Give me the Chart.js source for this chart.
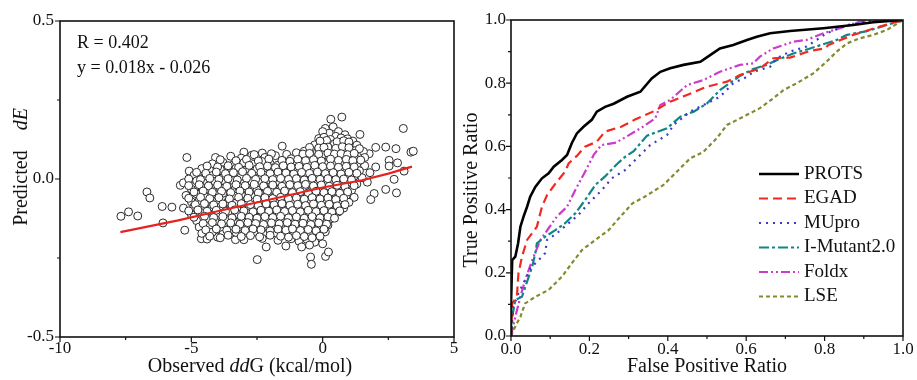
<!DOCTYPE html>
<html>
<head>
<meta charset="utf-8">
<script src="https://cdn.jsdelivr.net/npm/chart.js@4.4.1/dist/chart.umd.min.js"></script>
<style>
  body { margin: 0; background: #fff; }
  canvas { position: absolute; top: 0; }
  #scatter { left: 0; }
  #roc { left: 460px; }
</style>
</head>
<body>
<canvas id="scatter" width="460" height="380"></canvas>
<canvas id="roc" width="457" height="380"></canvas>
<script>
// ---- left panel: observed ddG vs predicted dE ----
const scatterOutliers = [
  [-7.68,-0.118],[-7.39,-0.104],[-7.04,-0.117],[-6.69,-0.041],[-6.58,-0.06],[-6.11,-0.087],[-6.08,-0.139],
  [-5.74,-0.089],[-5.42,-0.02],[-5.25,-0.162],[-5.17,0.068],[-5.08,0.025],[-4.91,0.001],[-4.63,0.015],
  [-4.4,0.015],[-4.08,0.068],[-4.08,0.022],[-4.62,-0.189],[-4.0,-0.184],[-3.32,-0.192],[-2.49,-0.255],
  [-2.15,-0.215],[-1.54,0.104],[-1.37,0.078],[-0.46,-0.247],[-0.43,-0.27],[0.11,-0.245],[0.22,-0.231],
  [0.31,0.189],[0.73,0.196],[1.42,0.141],[3.07,0.16],[3.36,0.085],[3.45,0.088],[2.79,0.096],[2.4,0.101],
  [2.85,0.051],[3.1,0.025],[2.72,-0.001],[2.4,-0.033],[2.81,-0.044],[1.96,-0.046],[1.83,-0.065],[1.7,-0.01],
  [2.02,0.038],[1.77,0.08],[2.02,0.1],[1.45,0.075],[2.53,0.059],[2.53,0.041]
];

const scatterCore = [
  [0.1,0.16],[0.4,0.165],[0.6,0.15],[0.25,0.145],[0.85,0.14],[0.0,0.15],[0.5,0.135],
  [-0.15,0.128],[0.05,0.132],[0.3,0.125],[0.7,0.13],[0.95,0.127],[1.15,0.12],
  [-0.3,0.108],[-0.05,0.113],[0.2,0.105],[0.45,0.112],[0.65,0.104],[0.9,0.11],[1.1,0.098],[1.3,0.107],
  [-0.7,0.088],[-0.45,0.093],[-0.2,0.085],[0.1,0.09],[0.35,0.086],[0.6,0.094],[0.8,0.087],[1.05,0.083],
  [1.25,0.09],[1.55,0.087],[-2.3,0.082],[-3.0,0.085],
  [-3.5,0.072],[-3.1,0.066],[-2.7,0.075],[-2.2,0.068],[-1.8,0.074],[-1.2,0.064],[-0.9,0.078],[-0.6,0.07],
  [-0.3,0.066],[0.0,0.076],[0.25,0.069],[0.5,0.073],[0.75,0.065],[1.0,0.071],[1.3,0.062],[1.6,0.068],
  [-4.2,0.048],[-3.8,0.053],[-3.4,0.045],[-3.0,0.052],[-2.6,0.047],[-2.3,0.055],[-2.0,0.049],[-1.7,0.044],
  [-1.4,0.053],[-1.1,0.047],[-0.8,0.051],[-0.5,0.045],[-0.2,0.054],[0.1,0.048],[0.4,0.052],[0.7,0.044],
  [1.0,0.05],[1.3,0.047],[1.6,0.042],
  [-4.6,0.033],[-4.3,0.027],[-3.9,0.031],[-3.6,0.025],[-3.3,0.034],[-2.9,0.028],[-2.5,0.032],[-2.2,0.026],
  [-1.9,0.035],[-1.6,0.029],[-1.3,0.024],[-1.0,0.033],[-0.7,0.027],[-0.4,0.031],[-0.1,0.025],[0.2,0.034],
  [0.5,0.028],[0.8,0.022],[1.1,0.031],[1.4,0.026],[1.8,0.02],
  [-4.9,0.012],[-4.5,0.006],[-4.2,0.011],[-3.8,0.004],[-3.5,0.013],[-3.1,0.008],[-2.8,0.01],[-2.4,0.005],
  [-2.1,0.014],[-1.8,0.007],[-1.5,0.011],[-1.2,0.004],[-0.9,0.012],[-0.6,0.006],[-0.3,0.01],[0.0,0.003],
  [0.3,0.012],[0.6,0.007],[0.9,0.002],[1.2,0.009],[1.5,0.004],
  [-5.3,-0.012],[-4.8,-0.006],[-4.4,-0.013],[-4.1,-0.008],[-3.7,-0.011],[-3.4,-0.005],[-3.0,-0.014],
  [-2.7,-0.007],[-2.3,-0.01],[-2.0,-0.004],[-1.7,-0.012],[-1.4,-0.008],[-1.1,-0.013],[-0.8,-0.006],
  [-0.5,-0.011],[-0.2,-0.015],[0.1,-0.008],[0.4,-0.012],[0.7,-0.018],[1.0,-0.01],[1.3,-0.016],
  [-5.0,-0.032],[-4.6,-0.027],[-4.3,-0.034],[-3.9,-0.028],[-3.6,-0.033],[-3.2,-0.026],[-2.9,-0.031],
  [-2.5,-0.035],[-2.2,-0.027],[-1.9,-0.032],[-1.6,-0.028],[-1.3,-0.034],[-1.0,-0.026],[-0.7,-0.031],
  [-0.4,-0.036],[-0.1,-0.029],[0.2,-0.034],[0.5,-0.038],[0.8,-0.03],[1.1,-0.036],
  [-5.2,-0.052],[-4.8,-0.047],[-4.5,-0.054],[-4.1,-0.049],[-3.8,-0.045],[-3.4,-0.053],[-3.1,-0.048],
  [-2.7,-0.055],[-2.4,-0.046],[-2.1,-0.051],[-1.8,-0.056],[-1.5,-0.048],[-1.2,-0.053],[-0.9,-0.047],
  [-0.6,-0.052],[-0.3,-0.057],[0.0,-0.049],[0.3,-0.055],[0.6,-0.06],[0.9,-0.052],[1.2,-0.058],
  [-5.0,-0.072],[-4.7,-0.068],[-4.3,-0.074],[-4.0,-0.066],[-3.6,-0.071],[-3.3,-0.076],[-2.9,-0.069],
  [-2.6,-0.073],[-2.3,-0.067],[-2.0,-0.075],[-1.7,-0.07],[-1.4,-0.066],[-1.1,-0.074],[-0.8,-0.069],
  [-0.5,-0.077],[-0.2,-0.071],[0.1,-0.076],[0.4,-0.068],[0.7,-0.08],[1.0,-0.074],
  [-5.3,-0.092],[-4.9,-0.087],[-4.5,-0.094],[-4.2,-0.088],[-3.8,-0.091],[-3.5,-0.096],[-3.1,-0.089],
  [-2.8,-0.093],[-2.5,-0.086],[-2.2,-0.095],[-1.9,-0.09],[-1.6,-0.085],[-1.3,-0.094],[-1.0,-0.088],
  [-0.7,-0.097],[-0.4,-0.091],[-0.1,-0.095],[0.2,-0.087],[0.5,-0.099],[0.8,-0.092],
  [-5.0,-0.112],[-4.6,-0.107],[-4.3,-0.114],[-3.9,-0.109],[-3.6,-0.105],[-3.2,-0.113],[-2.9,-0.108],
  [-2.6,-0.116],[-2.3,-0.106],[-2.0,-0.111],[-1.7,-0.115],[-1.4,-0.108],[-1.1,-0.113],[-0.8,-0.107],
  [-0.5,-0.116],[-0.2,-0.11],[0.1,-0.118],[0.4,-0.112],[0.6,-0.104],
  [-4.8,-0.132],[-4.4,-0.127],[-4.1,-0.134],[-3.7,-0.128],[-3.4,-0.133],[-3.0,-0.126],[-2.7,-0.135],
  [-2.4,-0.129],[-2.1,-0.133],[-1.8,-0.127],[-1.5,-0.136],[-1.2,-0.13],[-0.9,-0.134],[-0.6,-0.128],
  [-0.3,-0.137],[0.0,-0.131],[0.3,-0.126],
  [-4.7,-0.152],[-4.3,-0.147],[-3.9,-0.155],[-3.5,-0.149],[-3.2,-0.153],[-2.8,-0.146],[-2.5,-0.154],
  [-2.2,-0.149],[-1.9,-0.156],[-1.6,-0.15],[-1.3,-0.146],[-1.0,-0.155],[-0.7,-0.149],[-0.4,-0.157],
  [-0.1,-0.151],[0.2,-0.146],
  [-4.6,-0.172],[-4.2,-0.168],[-3.8,-0.175],[-3.3,-0.169],[-2.9,-0.173],[-2.6,-0.167],[-2.2,-0.176],
  [-1.8,-0.17],[-1.4,-0.174],[-1.1,-0.168],[-0.8,-0.177],[-0.5,-0.171],[-0.2,-0.175],[0.1,-0.167],
  [-4.4,-0.19],[-3.9,-0.186],[-3.0,-0.192],[-2.3,-0.188],[-1.7,-0.194],[-1.2,-0.189],[-0.9,-0.197],
  [-0.6,-0.191],[-0.3,-0.2],
  [-1.4,-0.212],[-0.8,-0.215],[-0.5,-0.209],[0.0,-0.205]
];

// second, interleaved layer of the dense cloud
const scatterInner = [
  [0.15,0.122],[0.55,0.118],[0.8,0.121],[1.0,0.117],[-0.1,0.12],
  [-0.5,0.1],[-0.15,0.098],[0.2,0.101],[0.5,0.097],[0.75,0.102],[1.0,0.099],[1.4,0.096],[0.05,0.1],
  [-2.6,0.077],[-1.95,0.08],[-1.0,0.083],[-0.75,0.079],[-0.5,0.081],[-0.15,0.078],[0.2,0.082],
  [0.45,0.079],[0.7,0.08],[0.95,0.077],[1.2,0.081],
  [-3.9,0.061],[-3.3,0.058],[-2.9,0.062],[-2.45,0.057],[-2.05,0.063],[-1.55,0.059],[-1.25,0.056],
  [-0.95,0.062],[-0.65,0.058],[-0.35,0.061],[-0.05,0.057],[0.3,0.063],[0.6,0.059],[0.9,0.062],
  [1.15,0.058],[1.45,0.06],
  [-4.4,0.041],[-4.0,0.038],[-3.6,0.042],[-3.2,0.037],[-2.8,0.043],[-2.4,0.039],[-2.1,0.041],
  [-1.8,0.036],[-1.5,0.042],[-1.2,0.038],[-0.9,0.04],[-0.6,0.037],[-0.3,0.043],[0.0,0.039],
  [0.3,0.041],[0.6,0.037],[0.9,0.04],[1.2,0.038],
  [-4.8,0.021],[-4.45,0.018],[-4.05,0.022],[-3.7,0.017],[-3.4,0.02],[-3.05,0.023],[-2.7,0.018],
  [-2.35,0.021],[-2.0,0.017],[-1.7,0.022],[-1.4,0.019],[-1.1,0.016],[-0.8,0.021],[-0.5,0.018],
  [-0.2,0.022],[0.1,0.017],[0.4,0.02],[0.7,0.016],[1.0,0.021],[1.3,0.018],
  [-5.1,0.0],[-4.65,-0.002],[-4.3,0.002],[-3.95,-0.001],[-3.6,0.001],[-3.25,-0.003],[-2.9,0.002],
  [-2.55,-0.001],[-2.2,0.001],[-1.9,-0.002],[-1.6,0.002],[-1.3,-0.001],[-1.0,0.001],[-0.7,-0.003],
  [-0.4,0.002],[-0.1,-0.001],[0.2,0.001],[0.5,-0.002],[0.8,0.0],[1.1,-0.003],
  [-5.1,-0.021],[-4.7,-0.018],[-4.35,-0.022],[-4.0,-0.019],[-3.65,-0.023],[-3.3,-0.018],[-2.95,-0.021],
  [-2.6,-0.017],[-2.25,-0.022],[-1.9,-0.019],[-1.55,-0.023],[-1.25,-0.018],[-0.95,-0.021],[-0.65,-0.017],
  [-0.35,-0.022],[-0.05,-0.019],[0.25,-0.023],[0.55,-0.02],[0.85,-0.024],[1.2,-0.021],
  [-4.9,-0.041],[-4.55,-0.038],[-4.2,-0.042],[-3.85,-0.039],[-3.5,-0.043],[-3.15,-0.038],[-2.8,-0.041],
  [-2.45,-0.044],[-2.1,-0.039],[-1.75,-0.042],[-1.45,-0.038],[-1.15,-0.043],[-0.85,-0.04],[-0.55,-0.044],
  [-0.25,-0.039],[0.05,-0.043],[0.35,-0.04],[0.65,-0.045],[0.95,-0.041],
  [-5.1,-0.061],[-4.65,-0.058],[-4.3,-0.062],[-3.95,-0.059],[-3.55,-0.063],[-3.2,-0.058],[-2.85,-0.061],
  [-2.5,-0.064],[-2.2,-0.059],[-1.9,-0.062],[-1.6,-0.058],[-1.3,-0.063],[-1.0,-0.06],[-0.7,-0.064],
  [-0.4,-0.059],[-0.1,-0.063],[0.2,-0.06],[0.5,-0.065],[0.8,-0.061],
  [-4.85,-0.081],[-4.5,-0.078],[-4.15,-0.082],[-3.8,-0.079],[-3.45,-0.083],[-3.1,-0.078],[-2.75,-0.081],
  [-2.45,-0.084],[-2.15,-0.079],[-1.85,-0.082],[-1.55,-0.078],[-1.25,-0.083],[-0.95,-0.08],[-0.65,-0.084],
  [-0.35,-0.079],[-0.05,-0.083],[0.25,-0.08],[0.55,-0.085],[0.85,-0.081],
  [-5.1,-0.101],[-4.75,-0.098],[-4.4,-0.102],[-4.05,-0.099],[-3.7,-0.103],[-3.35,-0.098],[-3.0,-0.101],
  [-2.65,-0.104],[-2.35,-0.099],[-2.05,-0.102],[-1.75,-0.098],[-1.45,-0.103],[-1.15,-0.1],[-0.85,-0.104],
  [-0.55,-0.099],[-0.25,-0.103],[0.05,-0.1],[0.35,-0.105],[0.65,-0.101],
  [-4.9,-0.121],[-4.5,-0.118],[-4.15,-0.122],[-3.8,-0.119],[-3.45,-0.123],[-3.1,-0.118],[-2.8,-0.121],
  [-2.5,-0.124],[-2.2,-0.119],[-1.9,-0.122],[-1.6,-0.118],[-1.3,-0.123],[-1.0,-0.12],[-0.7,-0.124],
  [-0.4,-0.119],[-0.1,-0.123],[0.2,-0.12],[0.45,-0.124],
  [-4.55,-0.141],[-4.2,-0.138],[-3.85,-0.142],[-3.5,-0.139],[-3.15,-0.143],[-2.85,-0.138],[-2.55,-0.141],
  [-2.25,-0.144],[-1.95,-0.139],[-1.65,-0.142],[-1.35,-0.138],[-1.05,-0.143],[-0.75,-0.14],[-0.45,-0.144],
  [-0.15,-0.139],[0.15,-0.143],
  [-4.45,-0.161],[-4.05,-0.158],[-3.65,-0.162],[-3.3,-0.159],[-2.95,-0.163],[-2.65,-0.158],[-2.35,-0.161],
  [-2.0,-0.164],[-1.7,-0.159],[-1.4,-0.162],[-1.15,-0.158],[-0.85,-0.163],[-0.55,-0.16],[-0.25,-0.164],
  [0.05,-0.159],
  [-4.3,-0.181],[-3.6,-0.178],[-3.1,-0.182],[-2.75,-0.179],[-2.4,-0.183],[-2.0,-0.178],[-1.6,-0.181],
  [-1.3,-0.184],[-1.0,-0.179],[-0.7,-0.182],[-0.4,-0.186],[-0.1,-0.181]
];

const fitX = [-7.7, -5.5, -4.0, -2.0, 0.0, 1.5, 2.5, 3.4];
const fitY = [-0.168, -0.131, -0.102, -0.065, -0.027, -0.004, 0.017, 0.039];

const leftXMajor = [-10, -5, 0, 5];
const leftXMinor = [-7.5, -2.5, 2.5];
const leftYMajor = [-0.5, 0, 0.5];
const leftYMinor = [-0.25, 0.25];

// ---- right panel: ROC curves ----
const rocNames = ["PROTS", "EGAD", "MUpro", "I-Mutant2.0", "Foldx", "LSE"];

const protsFpr = [0, 0, 0.003, 0.011, 0.018, 0.024, 0.032, 0.041, 0.049, 0.062, 0.079, 0.096, 0.109, 0.13, 0.143, 0.155, 0.168, 0.185, 0.206, 0.219, 0.24, 0.262, 0.296, 0.33, 0.359, 0.381, 0.406, 0.44, 0.483, 0.508, 0.533, 0.567, 0.602, 0.627, 0.661, 0.712, 0.797, 0.873, 0.924, 1.0];
const protsTpr = [0, 0.1, 0.24, 0.251, 0.293, 0.346, 0.378, 0.409, 0.441, 0.472, 0.499, 0.515, 0.536, 0.557, 0.573, 0.61, 0.641, 0.662, 0.684, 0.71, 0.725, 0.735, 0.757, 0.773, 0.815, 0.836, 0.847, 0.858, 0.868, 0.889, 0.91, 0.921, 0.937, 0.947, 0.958, 0.965, 0.974, 0.984, 0.993, 1.0];

const egadFpr = [0, 0.003, 0.015, 0.019, 0.028, 0.041, 0.066, 0.079, 0.092, 0.117, 0.138, 0.147, 0.168, 0.189, 0.219, 0.24, 0.281, 0.315, 0.362, 0.406, 0.449, 0.5, 0.551, 0.584, 0.635, 0.669, 0.712, 0.763, 0.801, 0.81, 0.873, 0.941, 1.0];
const egadTpr = [0, 0.103, 0.124, 0.198, 0.251, 0.304, 0.346, 0.409, 0.446, 0.488, 0.52, 0.546, 0.57, 0.599, 0.615, 0.647, 0.662, 0.684, 0.71, 0.741, 0.763, 0.789, 0.805, 0.826, 0.847, 0.879, 0.881, 0.902, 0.91, 0.921, 0.953, 0.979, 1.0];

const muproFpr = [0, 0.006, 0.019, 0.036, 0.049, 0.07, 0.087, 0.092, 0.117, 0.147, 0.172, 0.198, 0.232, 0.257, 0.291, 0.325, 0.355, 0.398, 0.415, 0.457, 0.491, 0.533, 0.567, 0.602, 0.618, 0.661, 0.678, 0.712, 0.754, 0.805, 0.857, 0.908, 1.0];
const muproTpr = [0, 0.093, 0.135, 0.177, 0.214, 0.24, 0.262, 0.304, 0.325, 0.357, 0.383, 0.42, 0.462, 0.499, 0.525, 0.567, 0.604, 0.636, 0.668, 0.71, 0.731, 0.757, 0.8, 0.82, 0.836, 0.852, 0.879, 0.9, 0.916, 0.958, 0.984, 0.995, 1.0];

const imutFpr = [0, 0.003, 0.011, 0.028, 0.041, 0.054, 0.062, 0.066, 0.087, 0.113, 0.138, 0.164, 0.189, 0.215, 0.24, 0.272, 0.291, 0.313, 0.347, 0.398, 0.432, 0.466, 0.5, 0.533, 0.584, 0.618, 0.652, 0.678, 0.72, 0.763, 0.831, 0.857, 0.908, 0.958, 1.0];
const imutTpr = [0, 0.06, 0.114, 0.124, 0.172, 0.219, 0.262, 0.293, 0.314, 0.335, 0.357, 0.388, 0.43, 0.478, 0.505, 0.546, 0.567, 0.585, 0.634, 0.657, 0.694, 0.71, 0.736, 0.778, 0.823, 0.845, 0.858, 0.873, 0.894, 0.91, 0.937, 0.953, 0.965, 0.984, 1.0];

const foldxFpr = [0, 0.011, 0.024, 0.036, 0.054, 0.075, 0.096, 0.117, 0.143, 0.164, 0.189, 0.211, 0.23, 0.268, 0.3, 0.334, 0.368, 0.381, 0.406, 0.449, 0.491, 0.533, 0.584, 0.618, 0.635, 0.669, 0.72, 0.754, 0.797, 0.839, 0.89, 0.941, 1.0];
const foldxTpr = [0, 0.061, 0.124, 0.177, 0.24, 0.304, 0.341, 0.378, 0.409, 0.462, 0.52, 0.573, 0.604, 0.612, 0.635, 0.66, 0.689, 0.731, 0.747, 0.794, 0.81, 0.836, 0.858, 0.863, 0.884, 0.91, 0.931, 0.937, 0.958, 0.974, 0.995, 0.997, 1.0];

const lseFpr = [0, 0.011, 0.024, 0.036, 0.062, 0.096, 0.13, 0.155, 0.181, 0.215, 0.249, 0.277, 0.31, 0.34, 0.366, 0.389, 0.423, 0.457, 0.491, 0.525, 0.551, 0.58, 0.618, 0.635, 0.669, 0.695, 0.729, 0.771, 0.805, 0.831, 0.857, 0.89, 0.924, 0.958, 1.0];
const lseTpr = [0, 0.03, 0.061, 0.103, 0.124, 0.146, 0.188, 0.23, 0.272, 0.304, 0.335, 0.375, 0.42, 0.44, 0.46, 0.478, 0.52, 0.562, 0.583, 0.626, 0.668, 0.686, 0.71, 0.721, 0.752, 0.778, 0.8, 0.831, 0.868, 0.9, 0.926, 0.942, 0.953, 0.968, 1.0];

const rightMajor = [0, 0.2, 0.4, 0.6, 0.8, 1.0];
const rightMinor = [0.1, 0.3, 0.5, 0.7, 0.9];

const SERIF = '"Liberation Serif", "Times New Roman", serif';
const INK = "#111";

function xy(xs, ys) {
  return xs.map((x, i) => ({ x: x, y: ys[i] }));
}

// draws a run of text pieces (some italic) centred or left-aligned on a point
function drawRich(ctx, parts, x, y, size, opts) {
  opts = opts || {};
  ctx.save();
  ctx.translate(x, y);
  if (opts.rotate) ctx.rotate(-Math.PI / 2);
  ctx.fillStyle = INK;
  ctx.textBaseline = "middle";
  ctx.textAlign = "left";
  const fonts = parts.map((p) => (p.italic ? "italic " : "") + size + "px " + SERIF);
  let total = 0;
  const widths = parts.map((p, i) => {
    ctx.font = fonts[i];
    const w = ctx.measureText(p.text).width;
    total += w;
    return w;
  });
  let cx = opts.left ? 0 : -total / 2;
  parts.forEach((p, i) => {
    ctx.font = fonts[i];
    ctx.fillText(p.text, cx, 0);
    cx += widths[i];
  });
  ctx.restore();
}

// box frame, outward ticks (major + minor) and free text
const framePlugin = {
  id: "frame",
  afterDraw(chart, args, o) {
    const { ctx, chartArea: a } = chart;
    const sx = chart.scales.x, sy = chart.scales.y;
    ctx.save();
    ctx.strokeStyle = INK;
    ctx.lineWidth = 1.6;
    ctx.strokeRect(a.left, a.top, a.right - a.left, a.bottom - a.top);
    ctx.lineWidth = 1.2;
    ctx.beginPath();
    o.xMajor.forEach((v) => { const p = sx.getPixelForValue(v); ctx.moveTo(p, a.bottom); ctx.lineTo(p, a.bottom + 5); });
    o.xMinor.forEach((v) => { const p = sx.getPixelForValue(v); ctx.moveTo(p, a.bottom); ctx.lineTo(p, a.bottom + 3); });
    o.yMajor.forEach((v) => { const p = sy.getPixelForValue(v); ctx.moveTo(a.left, p); ctx.lineTo(a.left - 5, p); });
    o.yMinor.forEach((v) => { const p = sy.getPixelForValue(v); ctx.moveTo(a.left, p); ctx.lineTo(a.left - 3, p); });
    ctx.stroke();
    ctx.restore();
    (o.texts || []).forEach((t) => drawRich(ctx, t.parts, t.x, t.y, t.size, t));
  },
};

// legend drawn inside the plot area from the datasets themselves
const insideLegend = {
  id: "insideLegend",
  afterDraw(chart, args, o) {
    if (!o.show) return;
    const { ctx, chartArea: a } = chart;
    ctx.save();
    chart.data.datasets.forEach((ds, i) => {
      const y = a.top + o.top + i * o.step;
      const x0 = a.left + o.left;
      ctx.strokeStyle = ds.borderColor;
      ctx.lineWidth = ds.borderWidth;
      ctx.setLineDash(ds.borderDash || []);
      ctx.beginPath();
      ctx.moveTo(x0, y);
      ctx.lineTo(x0 + o.lineLen, y);
      ctx.stroke();
      ctx.setLineDash([]);
      ctx.fillStyle = INK;
      ctx.font = o.size + "px " + SERIF;
      ctx.textBaseline = "middle";
      ctx.fillText(ds.label, x0 + o.lineLen + 5, y);
    });
    ctx.restore();
  },
};

function axis(min, max, step, fmt, fixedSize, isY, pad) {
  return {
    type: "linear",
    min: min,
    max: max,
    grid: { display: false, drawTicks: false, tickLength: 0 },
    border: { display: false },
    ticks: {
      stepSize: step,
      color: INK,
      padding: pad,
      maxRotation: 0,
      autoSkip: false,
      font: { family: SERIF, size: 17 },
      callback: fmt,
    },
    afterFit(s) {
      if (isY) s.width = fixedSize;
      else s.height = fixedSize;
    },
  };
}

new Chart(document.getElementById("scatter"), {
  type: "scatter",
  data: {
    datasets: [
      {
        type: "line",
        label: "fit",
        data: xy(fitX, fitY),
        borderColor: "#e8231f",
        borderWidth: 2.2,
        pointRadius: 0,
        fill: false,
        tension: 0,
      },
      {
        label: "observed vs predicted",
        data: scatterOutliers.concat(scatterCore, scatterInner).map((p) => ({ x: p[0], y: p[1] })),
        pointRadius: 4,
        pointBackgroundColor: "#fff",
        pointBorderColor: "#2a2a2a",
        pointBorderWidth: 1,
        showLine: false,
      },
    ],
  },
  options: {
    responsive: false,
    animation: false,
    layout: { padding: { top: 21, right: 6, left: 0, bottom: 0 } },
    plugins: {
      legend: { display: false },
      tooltip: { enabled: false },
      frame: {
        xMajor: leftXMajor, xMinor: leftXMinor, yMajor: leftYMajor, yMinor: leftYMinor,
        texts: [
          { parts: [{ text: "Observed " }, { text: "dd", italic: true }, { text: "G (kcal/mol)" }], x: 250, y: 367, size: 20 },
          { parts: [{ text: "Predicted    " }, { text: "dE", italic: true }], x: 22, y: 167, size: 20, rotate: true },
          { parts: [{ text: "R = 0.402" }], x: 77, y: 43, size: 18, left: true },
          { parts: [{ text: "y = 0.018x - 0.026" }], x: 77, y: 68, size: 18, left: true },
        ],
      },
    },
    scales: {
      x: axis(-10, 5, 5, (v) => String(v), 43, false, 1),
      y: axis(-0.5, 0.5, 0.5, (v) => v.toFixed(1), 60, true, 6),
    },
  },
  plugins: [framePlugin],
});

const rocStyles = [
  { color: "#000000", width: 2.6, dash: [] },
  { color: "#f02a22", width: 2.2, dash: [9, 5] },
  { color: "#3a3acc", width: 2.2, dash: [2, 5] },
  { color: "#128585", width: 2.2, dash: [10, 3, 3, 3] },
  { color: "#cc3ccc", width: 2.2, dash: [9, 3, 2, 3, 2, 3] },
  { color: "#868a2c", width: 2.2, dash: [4, 3] },
];
const rocData = [
  xy(protsFpr, protsTpr), xy(egadFpr, egadTpr), xy(muproFpr, muproTpr),
  xy(imutFpr, imutTpr), xy(foldxFpr, foldxTpr), xy(lseFpr, lseTpr),
];

new Chart(document.getElementById("roc"), {
  type: "line",
  data: {
    datasets: rocNames.map((name, i) => ({
      label: name,
      data: rocData[i],
      borderColor: rocStyles[i].color,
      borderWidth: rocStyles[i].width,
      borderDash: rocStyles[i].dash,
      pointRadius: 0,
      fill: false,
      tension: 0,
    })),
  },
  options: {
    responsive: false,
    animation: false,
    layout: { padding: { top: 20, right: 14, left: 0, bottom: 0 } },
    plugins: {
      legend: { display: false },
      tooltip: { enabled: false },
      frame: {
        xMajor: rightMajor, xMinor: rightMinor, yMajor: rightMajor, yMinor: rightMinor,
        texts: [
          { parts: [{ text: "False Positive Ratio" }], x: 247, y: 367, size: 20 },
          { parts: [{ text: "True Positive Ratio" }], x: 12, y: 190, size: 20, rotate: true },
        ],
      },
      insideLegend: { show: true, left: 248, top: 154, step: 24.5, lineLen: 40, size: 19 },
    },
    scales: {
      x: axis(0, 1, 0.2, (v) => v.toFixed(1), 44, false, 3),
      y: axis(0, 1, 0.2, (v) => v.toFixed(1), 51, true, 5),
    },
  },
  plugins: [framePlugin, insideLegend],
});
</script>
</body>
</html>
